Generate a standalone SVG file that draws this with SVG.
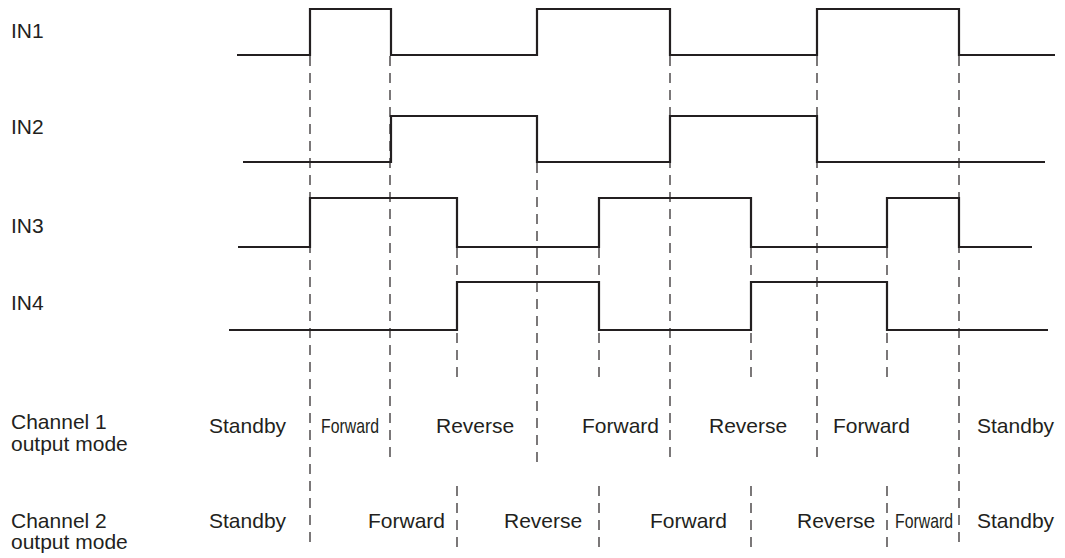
<svg xmlns="http://www.w3.org/2000/svg" width="1065" height="558" viewBox="0 0 1065 558">
<style>
.wave{fill:none;stroke:#231f20;stroke-width:2.2;stroke-linejoin:miter}
.dash{fill:none;stroke:#231f20;stroke-width:1.2;stroke-dasharray:10 7}
text{font-family:"Liberation Sans",Arial,sans-serif;font-size:21px;fill:#231f20}
</style>
<rect width="1065" height="558" fill="#ffffff"/>
<g id="connectors">
<path class="dash" d="M310,56 V543"/>
<path class="dash" d="M390,56 V463"/>
<path class="dash" d="M457,248 V383 M457,486 V552"/>
<path class="dash" d="M537,163 V463"/>
<path class="dash" d="M599,248 V383 M599,486 V552"/>
<path class="dash" d="M670,56 V463"/>
<path class="dash" d="M751,248 V383 M751,486 V552"/>
<path class="dash" d="M817,56 V463"/>
<path class="dash" d="M887,248 V383 M887,486 V552"/>
<path class="dash" d="M959,56 V543"/>
</g>
<g id="in1">
<text x="11" y="38">IN1</text>
<path class="wave" d="M237,55 H310 V9 H391 V55 H537 V9 H670 V55 H817 V9 H959 V55 H1055"/>
</g>
<g id="in2">
<text x="11" y="134">IN2</text>
<path class="wave" d="M243,162 H391 V116 H537 V162 H670 V116 H817 V162 H1045"/>
</g>
<g id="in3">
<text x="11" y="233">IN3</text>
<path class="wave" d="M238,247 H310 V198 H457 V247 H599 V198 H751 V247 H887 V198 H959 V247 H1032"/>
</g>
<g id="in4">
<text x="11" y="310">IN4</text>
<path class="wave" d="M229,330 H457 V282 H599 V330 H751 V282 H887 V330 H1048"/>
</g>
<g id="channel1">
<text x="11" y="429">Channel 1</text>
<text x="11" y="451">output mode</text>
<text x="209" y="433">Standby</text>
<text x="321" y="433" textLength="58" lengthAdjust="spacingAndGlyphs">Forward</text>
<text x="436" y="433">Reverse</text>
<text x="582" y="433">Forward</text>
<text x="709" y="433">Reverse</text>
<text x="833" y="433">Forward</text>
<text x="977" y="433">Standby</text>
</g>
<g id="channel2">
<text x="11" y="528">Channel 2</text>
<text x="11" y="549">output mode</text>
<text x="209" y="528">Standby</text>
<text x="368" y="528">Forward</text>
<text x="504" y="528">Reverse</text>
<text x="650" y="528">Forward</text>
<text x="797" y="528">Reverse</text>
<text x="895" y="528" textLength="58" lengthAdjust="spacingAndGlyphs">Forward</text>
<text x="977" y="528">Standby</text>
</g>
</svg>
